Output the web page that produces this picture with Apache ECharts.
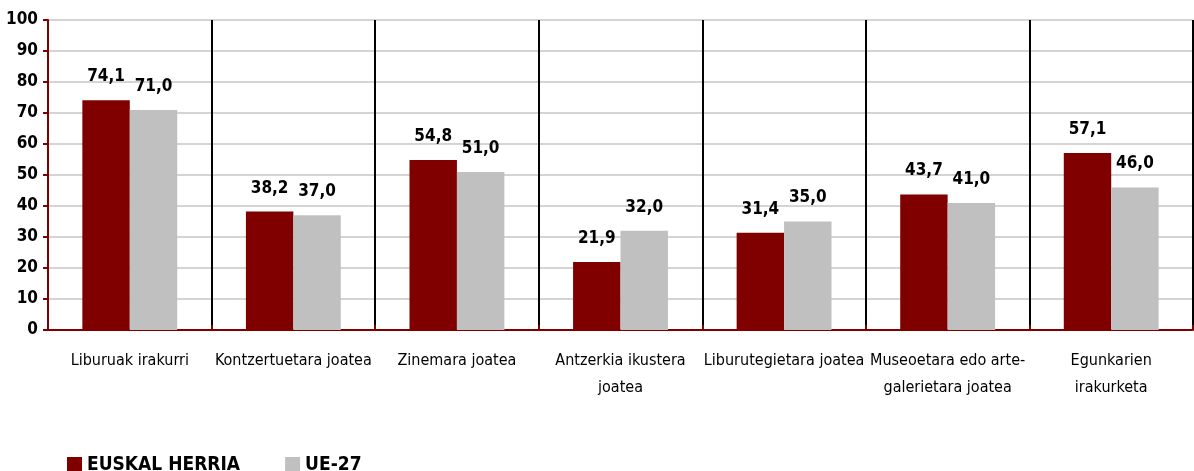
<!DOCTYPE html>
<html><head><meta charset="utf-8">
<script src="https://cdn.jsdelivr.net/npm/echarts@6/dist/echarts.min.js"></script>
<style>html,body{margin:0;padding:0;background:#fff}#c{width:1194px;height:471px}</style>
</head><body><div id="c"></div>
<script>
var categories = ['Liburuak irakurri','Kontzertuetara joatea','Zinemara joatea','Antzerkia ikustera\njoatea','Liburutegietara joatea','Museoetara edo arte-\ngalerietara joatea','Egunkarien\nirakurketa'];
var seriesNames = ['EUSKAL HERRIA','UE-27'];
var euskalHerria = [74.1,38.2,54.8,21.9,31.4,43.7,57.1];
var ue27 = [71.0,37.0,51.0,32.0,35.0,41.0,46.0];
var yTicks = [0,10,20,30,40,50,60,70,80,90,100];

var FONT = "'DejaVu Sans Condensed','Liberation Sans Narrow','Arial Narrow',sans-serif";
var chart = echarts.init(document.getElementById('c'));
function fmt(p){ return p.value.toFixed(1).replace('.', ','); }
var lbl = {show:true,position:'top',distance:15,formatter:fmt,fontFamily:FONT,fontWeight:'bold',fontSize:17,letterSpacing:-1.5,color:'#000'};
chart.setOption({
  animation:false,
  textStyle:{fontFamily:FONT},
  grid:{left:48,right:1,top:20,bottom:141,show:true,borderColor:'#999',borderWidth:1},
  legend:{left:62,top:451,itemWidth:15,itemHeight:17,itemGap:45,icon:'rect',
    textStyle:{fontFamily:FONT,fontWeight:'bold',fontSize:19,color:'#000',letterSpacing:-1.3},
    data:seriesNames},
  xAxis:{type:'category',data:categories,
    axisLine:{lineStyle:{color:'#800000',width:2}},
    axisTick:{show:true,inside:true,length:5,lineStyle:{color:'#800000',width:2}},
    splitLine:{show:true,lineStyle:{color:'#000',width:2}},
    axisLabel:{interval:0,margin:17,fontFamily:FONT,fontSize:16,color:'#000',lineHeight:27}},
  yAxis:{type:'value',min:0,max:100,interval:10,
    axisLine:{show:true,lineStyle:{color:'#800000',width:2}},
    axisTick:{show:true,length:5,lineStyle:{color:'#800000',width:2}},
    splitLine:{lineStyle:{color:'#d4d4d4',width:2}},
    axisLabel:{margin:10,fontFamily:FONT,fontWeight:'bold',fontSize:17,letterSpacing:-1.5,color:'#000',
      formatter:function(v){return yTicks.indexOf(v)>=0?String(v):'';}}},
  series:[
    {name:seriesNames[0],type:'bar',data:euskalHerria,barGap:'0%',barCategoryGap:'42%',
     itemStyle:{color:'#800000'},label:lbl},
    {name:seriesNames[1],type:'bar',data:ue27,
     itemStyle:{color:'#c0c0c0'},label:lbl}
  ]
});
</script></body></html>
